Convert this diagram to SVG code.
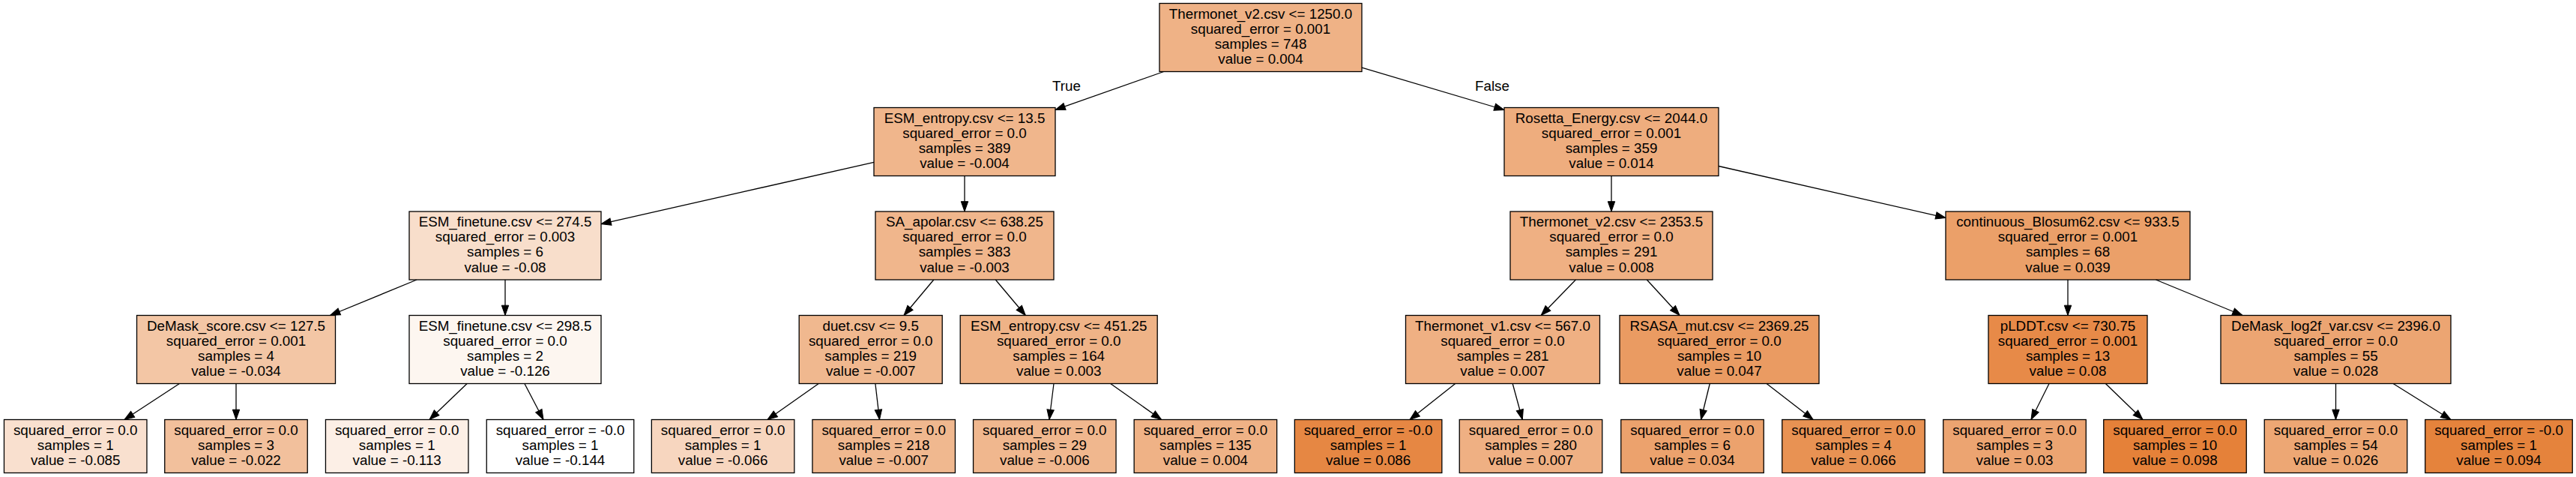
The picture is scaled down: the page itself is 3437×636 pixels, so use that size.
<svg xmlns="http://www.w3.org/2000/svg" width="3437" height="636" viewBox="0 0 3437 636">
<style>
.n rect{stroke:#000;stroke-width:1.3}
text{font-family:"Liberation Sans",Arial,sans-serif;font-size:18.8px;fill:#000;text-anchor:middle}
#edges line{stroke:#000;stroke-width:1.3;marker-end:url(#arr)}
</style>
<defs>
<marker id="arr" markerUnits="userSpaceOnUse" markerWidth="16" markerHeight="12" refX="13.3" refY="4.7" orient="auto" overflow="visible"><path d="M0,0 L13.3,4.7 L0,9.4 z" fill="#000" stroke="#000" stroke-width="1"/></marker>
</defs>
<rect width="3437" height="636" fill="#fff"/>
<g id="edges">
<line x1="1552.7" y1="95.5" x2="1408" y2="146.4"/>
<line x1="1817" y1="90.1" x2="2007" y2="146.5"/>
<line x1="1166" y1="216.3" x2="802" y2="298.6"/>
<line x1="1287" y1="234.5" x2="1287" y2="282"/>
<line x1="2150" y1="234.5" x2="2150" y2="282"/>
<line x1="2293" y1="221.5" x2="2596" y2="290.4"/>
<line x1="556.1" y1="373" x2="440.5" y2="420.5"/>
<line x1="674" y1="373" x2="674" y2="420.5"/>
<line x1="1245.8" y1="373" x2="1206" y2="420.5"/>
<line x1="1328.3" y1="373" x2="1368.3" y2="420.5"/>
<line x1="2102.4" y1="373" x2="2056.2" y2="420.5"/>
<line x1="2197.3" y1="373" x2="2241" y2="420.5"/>
<line x1="2759" y1="373" x2="2759" y2="420.5"/>
<line x1="2876.4" y1="373" x2="2992" y2="420.5"/>
<line x1="239.4" y1="511.5" x2="166" y2="559.5"/>
<line x1="315" y1="511.5" x2="315" y2="559.5"/>
<line x1="623.1" y1="511.5" x2="573" y2="559.5"/>
<line x1="699.9" y1="511.5" x2="725" y2="559.5"/>
<line x1="1092.2" y1="511.5" x2="1024" y2="559.5"/>
<line x1="1167.9" y1="511.5" x2="1173.5" y2="559.5"/>
<line x1="1406" y1="511.5" x2="1400" y2="559.5"/>
<line x1="1481.7" y1="511.5" x2="1549.6" y2="559.5"/>
<line x1="1941.7" y1="511.5" x2="1881" y2="559.5"/>
<line x1="2018.2" y1="511.5" x2="2031.3" y2="559.5"/>
<line x1="2281.3" y1="511.5" x2="2269.5" y2="559.5"/>
<line x1="2357.1" y1="511.5" x2="2419.2" y2="559.5"/>
<line x1="2734" y1="511.5" x2="2710" y2="559.5"/>
<line x1="2809.4" y1="511.5" x2="2859" y2="559.5"/>
<line x1="3116.5" y1="511.5" x2="3116.5" y2="559.5"/>
<line x1="3193.1" y1="511.5" x2="3270" y2="559.5"/>
<text x="1423" y="120.5">True</text>
<text x="1991" y="120.5">False</text>
</g>
<g id="node0" class="n"><rect x="1547" y="4.5" width="270" height="91" fill="#efb286"/><text x="1682" y="24.5">Thermonet_v2.csv &lt;= 1250.0</text><text x="1682" y="44.7">squared_error = 0.001</text><text x="1682" y="64.9">samples = 748</text><text x="1682" y="85.1">value = 0.004</text></g>
<g id="node1" class="n"><rect x="1166" y="143.5" width="242" height="91" fill="#f0b68c"/><text x="1287" y="163.5">ESM_entropy.csv &lt;= 13.5</text><text x="1287" y="183.7">squared_error = 0.0</text><text x="1287" y="203.9">samples = 389</text><text x="1287" y="224.1">value = -0.004</text></g>
<g id="node2" class="n"><rect x="2007" y="143.5" width="286" height="91" fill="#eead7e"/><text x="2150" y="163.5">Rosetta_Energy.csv &lt;= 2044.0</text><text x="2150" y="183.7">squared_error = 0.001</text><text x="2150" y="203.9">samples = 359</text><text x="2150" y="224.1">value = 0.014</text></g>
<g id="node3" class="n"><rect x="546" y="282" width="256" height="91" fill="#f8decb"/><text x="674" y="302">ESM_finetune.csv &lt;= 274.5</text><text x="674" y="322.2">squared_error = 0.003</text><text x="674" y="342.4">samples = 6</text><text x="674" y="362.6">value = -0.08</text></g>
<g id="node4" class="n"><rect x="1168" y="282" width="238" height="91" fill="#f0b68c"/><text x="1287" y="302">SA_apolar.csv &lt;= 638.25</text><text x="1287" y="322.2">squared_error = 0.0</text><text x="1287" y="342.4">samples = 383</text><text x="1287" y="362.6">value = -0.003</text></g>
<g id="node5" class="n"><rect x="2015" y="282" width="270" height="91" fill="#efb083"/><text x="2150" y="302">Thermonet_v2.csv &lt;= 2353.5</text><text x="2150" y="322.2">squared_error = 0.0</text><text x="2150" y="342.4">samples = 291</text><text x="2150" y="362.6">value = 0.008</text></g>
<g id="node6" class="n"><rect x="2596" y="282" width="326" height="91" fill="#eba069"/><text x="2759" y="302">continuous_Blosum62.csv &lt;= 933.5</text><text x="2759" y="322.2">squared_error = 0.001</text><text x="2759" y="342.4">samples = 68</text><text x="2759" y="362.6">value = 0.039</text></g>
<g id="node7" class="n"><rect x="182.5" y="420.5" width="265" height="91" fill="#f3c6a5"/><text x="315" y="440.5">DeMask_score.csv &lt;= 127.5</text><text x="315" y="460.7">squared_error = 0.001</text><text x="315" y="480.9">samples = 4</text><text x="315" y="501.1">value = -0.034</text></g>
<g id="node8" class="n"><rect x="546" y="420.5" width="256" height="91" fill="#fdf6f0"/><text x="674" y="440.5">ESM_finetune.csv &lt;= 298.5</text><text x="674" y="460.7">squared_error = 0.0</text><text x="674" y="480.9">samples = 2</text><text x="674" y="501.1">value = -0.126</text></g>
<g id="node9" class="n"><rect x="1066.2" y="420.5" width="191" height="91" fill="#f0b88f"/><text x="1161.7" y="440.5">duet.csv &lt;= 9.5</text><text x="1161.7" y="460.7">squared_error = 0.0</text><text x="1161.7" y="480.9">samples = 219</text><text x="1161.7" y="501.1">value = -0.007</text></g>
<g id="node10" class="n"><rect x="1281.2" y="420.5" width="263" height="91" fill="#efb387"/><text x="1412.7" y="440.5">ESM_entropy.csv &lt;= 451.25</text><text x="1412.7" y="460.7">squared_error = 0.0</text><text x="1412.7" y="480.9">samples = 164</text><text x="1412.7" y="501.1">value = 0.003</text></g>
<g id="node11" class="n"><rect x="1875.5" y="420.5" width="259" height="91" fill="#efb083"/><text x="2005" y="440.5">Thermonet_v1.csv &lt;= 567.0</text><text x="2005" y="460.7">squared_error = 0.0</text><text x="2005" y="480.9">samples = 281</text><text x="2005" y="501.1">value = 0.007</text></g>
<g id="node12" class="n"><rect x="2161" y="420.5" width="266" height="91" fill="#ea9b62"/><text x="2294" y="440.5">RSASA_mut.csv &lt;= 2369.25</text><text x="2294" y="460.7">squared_error = 0.0</text><text x="2294" y="480.9">samples = 10</text><text x="2294" y="501.1">value = 0.047</text></g>
<g id="node13" class="n"><rect x="2653" y="420.5" width="212" height="91" fill="#e78a48"/><text x="2759" y="440.5">pLDDT.csv &lt;= 730.75</text><text x="2759" y="460.7">squared_error = 0.001</text><text x="2759" y="480.9">samples = 13</text><text x="2759" y="501.1">value = 0.08</text></g>
<g id="node14" class="n"><rect x="2963" y="420.5" width="307" height="91" fill="#eca572"/><text x="3116.5" y="440.5">DeMask_log2f_var.csv &lt;= 2396.0</text><text x="3116.5" y="460.7">squared_error = 0.0</text><text x="3116.5" y="480.9">samples = 55</text><text x="3116.5" y="501.1">value = 0.028</text></g>
<g id="leaf0" class="n"><rect x="5.45" y="559.5" width="190.5" height="71" fill="#f9e0cf"/><text x="100.7" y="579.5">squared_error = 0.0</text><text x="100.7" y="599.5">samples = 1</text><text x="100.7" y="619.5">value = -0.085</text></g>
<g id="leaf1" class="n"><rect x="219.75" y="559.5" width="190.5" height="71" fill="#f2c09c"/><text x="315" y="579.5">squared_error = 0.0</text><text x="315" y="599.5">samples = 3</text><text x="315" y="619.5">value = -0.022</text></g>
<g id="leaf2" class="n"><rect x="434.45" y="559.5" width="190.5" height="71" fill="#fcefe6"/><text x="529.7" y="579.5">squared_error = 0.0</text><text x="529.7" y="599.5">samples = 1</text><text x="529.7" y="619.5">value = -0.113</text></g>
<g id="leaf3" class="n"><rect x="649.25" y="559.5" width="196.5" height="71" fill="#ffffff"/><text x="747.5" y="579.5">squared_error = -0.0</text><text x="747.5" y="599.5">samples = 1</text><text x="747.5" y="619.5">value = -0.144</text></g>
<g id="leaf4" class="n"><rect x="869.35" y="559.5" width="190.5" height="71" fill="#f7d6bf"/><text x="964.6" y="579.5">squared_error = 0.0</text><text x="964.6" y="599.5">samples = 1</text><text x="964.6" y="619.5">value = -0.066</text></g>
<g id="leaf5" class="n"><rect x="1083.95" y="559.5" width="190.5" height="71" fill="#f0b88f"/><text x="1179.2" y="579.5">squared_error = 0.0</text><text x="1179.2" y="599.5">samples = 218</text><text x="1179.2" y="619.5">value = -0.007</text></g>
<g id="leaf6" class="n"><rect x="1298.55" y="559.5" width="190.5" height="71" fill="#f0b78e"/><text x="1393.8" y="579.5">squared_error = 0.0</text><text x="1393.8" y="599.5">samples = 29</text><text x="1393.8" y="619.5">value = -0.006</text></g>
<g id="leaf7" class="n"><rect x="1513.15" y="559.5" width="190.5" height="71" fill="#efb286"/><text x="1608.4" y="579.5">squared_error = 0.0</text><text x="1608.4" y="599.5">samples = 135</text><text x="1608.4" y="619.5">value = 0.004</text></g>
<g id="leaf8" class="n"><rect x="1727.35" y="559.5" width="196.5" height="71" fill="#e68743"/><text x="1825.6" y="579.5">squared_error = -0.0</text><text x="1825.6" y="599.5">samples = 1</text><text x="1825.6" y="619.5">value = 0.086</text></g>
<g id="leaf9" class="n"><rect x="1947.25" y="559.5" width="190.5" height="71" fill="#efb083"/><text x="2042.5" y="579.5">squared_error = 0.0</text><text x="2042.5" y="599.5">samples = 280</text><text x="2042.5" y="619.5">value = 0.007</text></g>
<g id="leaf10" class="n"><rect x="2162.75" y="559.5" width="190.5" height="71" fill="#eca26d"/><text x="2258" y="579.5">squared_error = 0.0</text><text x="2258" y="599.5">samples = 6</text><text x="2258" y="619.5">value = 0.034</text></g>
<g id="leaf11" class="n"><rect x="2377.75" y="559.5" width="190.5" height="71" fill="#e89253"/><text x="2473" y="579.5">squared_error = 0.0</text><text x="2473" y="599.5">samples = 4</text><text x="2473" y="619.5">value = 0.066</text></g>
<g id="leaf12" class="n"><rect x="2592.75" y="559.5" width="190.5" height="71" fill="#eca471"/><text x="2688" y="579.5">squared_error = 0.0</text><text x="2688" y="599.5">samples = 3</text><text x="2688" y="619.5">value = 0.03</text></g>
<g id="leaf13" class="n"><rect x="2806.75" y="559.5" width="190.5" height="71" fill="#e58139"/><text x="2902" y="579.5">squared_error = 0.0</text><text x="2902" y="599.5">samples = 10</text><text x="2902" y="619.5">value = 0.098</text></g>
<g id="leaf14" class="n"><rect x="3021.25" y="559.5" width="190.5" height="71" fill="#eda774"/><text x="3116.5" y="579.5">squared_error = 0.0</text><text x="3116.5" y="599.5">samples = 54</text><text x="3116.5" y="619.5">value = 0.026</text></g>
<g id="leaf15" class="n"><rect x="3235.75" y="559.5" width="196.5" height="71" fill="#e5833c"/><text x="3334" y="579.5">squared_error = -0.0</text><text x="3334" y="599.5">samples = 1</text><text x="3334" y="619.5">value = 0.094</text></g>
</svg>
